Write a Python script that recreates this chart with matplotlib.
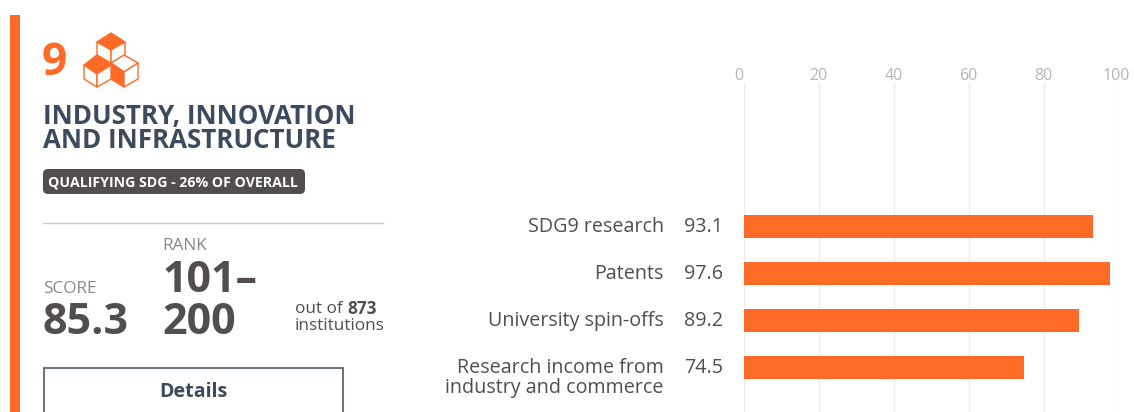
import matplotlib
matplotlib.use("Agg")
import matplotlib.pyplot as plt
from matplotlib.patches import Polygon, Rectangle, FancyBboxPatch
from matplotlib.transforms import ScaledTranslation

plt.rcParams["font.family"] = ["Open Sans", "DejaVu Sans"]

categories = ["SDG9 research", "Patents", "University spin-offs",
              "Research income from\nindustry and commerce"]
scores = [93.1, 97.6, 89.2, 74.5]
score_labels = ["93.1", "97.6", "89.2", "74.5"]
x_ticks = [0, 20, 40, 60, 80, 100]
x_label_shift = [-6, -1, -1, -1, -1, -3]

ORANGE = "#ff6b26"
DARK = "#3b4a5c"
GREY = "#524e4e"
W, H = 1134, 412

fig = plt.figure(figsize=(W / 100, H / 100), dpi=100)

# overlay in pixel coordinates for the card on the left
card = fig.add_axes([0, 0, 1, 1])
card.set_xlim(0, W)
card.set_ylim(H, 0)
card.axis("off")

card.add_patch(Rectangle((10, 15), 10, H - 15, color=ORANGE, lw=0))
card.text(42, 63, "9", color=ORANGE, fontsize=32, fontweight="bold", va="center", ha="left")


def cube(top, left, right, centre, low_l, low_r, bottom, fill):
    face_top = [top, right, centre, left]
    face_l = [left, centre, bottom, low_l]
    face_r = [centre, right, low_r, bottom]
    for i, face in enumerate([face_top, face_l, face_r]):
        card.add_patch(Polygon(face, closed=True, ec=ORANGE, lw=1.0,
                               fc=ORANGE if i == fill else "white", joinstyle="round"))


cube((111, 33), (97, 42), (125, 42), (111, 50), (97, 55), (125, 55), (111, 63), 0)
cube((124, 55), (111, 63), (138, 63), (124, 72), (111, 79), (138, 79), (124, 87), 1)
cube((97, 55), (84, 65), (111, 65), (97, 74), (84, 79), (111, 79), (97, 87), 0)

card.text(43, 116, "INDUSTRY, INNOVATION", color=DARK, fontsize=18.6, fontweight="bold", va="center")
card.text(43, 141, "AND INFRASTRUCTURE", color=DARK, fontsize=18.6, fontweight="bold", va="center")

card.add_patch(FancyBboxPatch((46, 172), 256, 19, boxstyle="round,pad=3,rounding_size=5",
                              fc=GREY, ec="none"))
card.text(48, 182, "QUALIFYING SDG - 26% OF OVERALL", color="white", fontsize=10.2,
          fontweight="bold", va="center")

card.plot([43, 383], [223, 223], color="#c8c8c8", lw=1.0)

card.text(43, 289, "SCORE", color="#8a8a8a", fontsize=12.4, va="center")
card.text(42, 323, "85.3", color=GREY, fontsize=31, fontweight="bold", va="center")
card.text(162, 246, "RANK", color="#8a8a8a", fontsize=12.4, va="center")
card.text(162, 281, "101\u2013", color=GREY, fontsize=31, fontweight="bold", va="center")
card.text(162, 323, "200", color=GREY, fontsize=31, fontweight="bold", va="center")
card.text(295, 309, "out of", color=GREY, fontsize=12.3, va="center")
card.text(347, 309, "873", color=GREY, fontsize=12.3, fontweight="bold", va="center")
card.text(295, 326, "institutions", color=GREY, fontsize=12.3, va="center")

card.add_patch(Rectangle((43.5, 368), 299, 50, fc="white", ec="#5f6473", lw=1.3))
card.text(193, 392, "Details", color=DARK, fontsize=14.1, fontweight="bold", va="center", ha="center")

# bar chart on the right
ax = fig.add_axes([744.5 / W, 0, 374.5 / W, (H - 83) / H])
ax.patch.set_alpha(0)
ypos = list(range(len(categories)))
ax.barh(ypos, scores, height=23 / 47, color=ORANGE, zorder=3)
ax.set_xlim(0, 100)
ax.set_ylim(3.947, -3.053)
ax.set_xticks(x_ticks)
ax.xaxis.tick_top()
ax.tick_params(axis="x", length=0, pad=-1, labelsize=11.5, labelcolor="#b5b5b5")
ax.set_yticks(ypos)
ax.set_yticklabels(categories, fontsize=14.2, color=GREY, linespacing=0.98)
ax.tick_params(axis="y", length=0, pad=58)
ax.grid(axis="x", color="#ececec", lw=1.0, zorder=0)
for s in ax.spines.values():
    s.set_visible(False)

# the labels hang from the first line, so the two-line one sits below its bar centre
for lab in ax.get_yticklabels():
    lab.set_va("top")
    lab.set_transform(lab.get_transform() + ScaledTranslation(0, 9 / 100, fig.dpi_scale_trans))
for lab, dx in zip(ax.get_xticklabels(), x_label_shift):
    lab.set_transform(lab.get_transform() + ScaledTranslation(dx / 100, 0, fig.dpi_scale_trans))

for y, lab in zip(ypos, score_labels):
    ax.annotate(lab, (0, y), xytext=(-60, -1), textcoords="offset pixels", fontsize=14.2,
                color=GREY, va="center", ha="left")

fig.savefig("out.png", dpi=100)
